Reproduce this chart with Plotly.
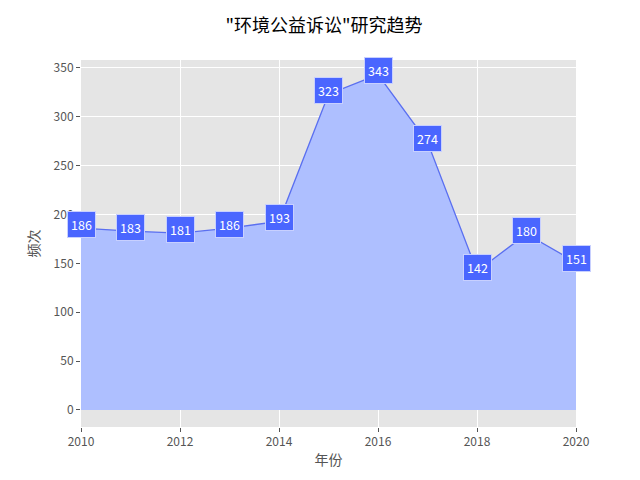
import plotly.graph_objects as go

years = [2010, 2011, 2012, 2013, 2014, 2015, 2016, 2017, 2018, 2019, 2020]
counts = [186, 183, 181, 186, 193, 323, 343, 274, 142, 180, 151]

font_cn = "Noto Sans CJK SC, DejaVu Sans, sans-serif"

fig = go.Figure()
fig.add_trace(go.Scatter(x=years, y=counts, mode="lines", fill="tozeroy",
                         line=dict(color="#5a6ff0", width=1.3),
                         fillcolor="#aebfff", hoverinfo="x+y"))

for x, y in zip(years, counts):
    fig.add_annotation(x=x, y=y, xref="x", yref="y", text=str(y), showarrow=False, yshift=4,
                       font=dict(color="white", size=12.5, family=font_cn),
                       bgcolor="#4a66ff", bordercolor="#c8d0ff", borderwidth=1, borderpad=3)

# page body has an 8px margin, so shrink the figure to fit the window
fig.update_layout(
    width=632, height=472,
    margin=dict(l=73, r=64, t=52, b=53, autoexpand=False),
    paper_bgcolor="white", plot_bgcolor="#e5e5e5",
    showlegend=False,
    font=dict(family=font_cn, color="#555555", size=12),
    title=dict(text='"环境公益诉讼"研究趋势', x=0.5, xanchor="center", y=0.962, yanchor="middle",
               font=dict(size=18, color="black", family=font_cn)),
)
fig.update_xaxes(range=[2010, 2020], tickvals=[2010, 2012, 2014, 2016, 2018, 2020],
                 showgrid=True, gridcolor="white", gridwidth=1, zeroline=False,
                 ticks="outside", ticklen=4, tickcolor="#555555", automargin=False,
                 title=dict(text="年份", font=dict(size=14, color="#555555"), standoff=6))
fig.update_yaxes(range=[-17.4, 358], tickvals=[0, 50, 100, 150, 200, 250, 300, 350],
                 showgrid=True, gridcolor="white", gridwidth=1, zeroline=False,
                 ticks="outside", ticklen=4, tickcolor="#555555", automargin=False,
                 title=dict(text="频次", font=dict(size=14, color="#555555"), standoff=10))

fig.write_html("out.html")
